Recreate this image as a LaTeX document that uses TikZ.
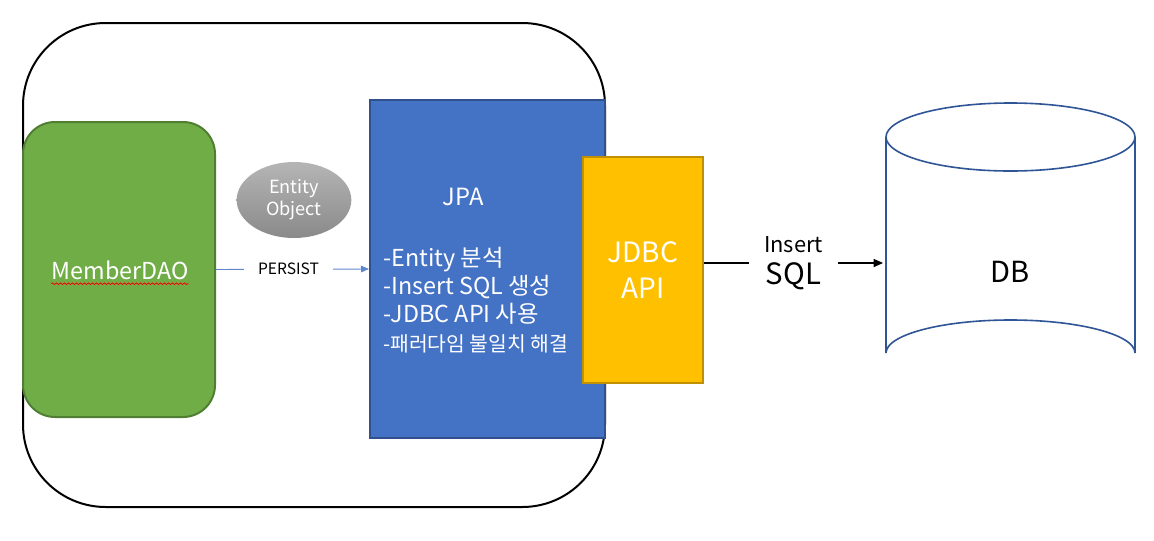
\documentclass[tikz,border=0pt]{standalone}
\usepackage{fontspec}
\setmainfont{Noto Sans CJK KR}
\usetikzlibrary{fit,shapes.geometric,arrows.meta,decorations.pathmorphing}
\definecolor{daogreen}{HTML}{70AD47}
\definecolor{daoborder}{HTML}{507E32}
\definecolor{jpablue}{HTML}{4472C4}
\definecolor{jpaborder}{HTML}{2F528F}
\definecolor{jdbcyellow}{HTML}{FFC000}
\definecolor{jdbcborder}{HTML}{BF9000}
\definecolor{dbborder}{HTML}{2F5597}
\tikzset{
  box/.style={inner sep=0pt, line width=1.5pt},
  wtext/.style={text=white, inner sep=0pt},
  fsz/.style={font=\fontsize{#1pt}{\dimexpr #1pt*13/10\relax}\selectfont},
}
\begin{document}
\begin{tikzpicture}[x=0.75pt,y=-0.75pt]
\useasboundingbox (0,0) rectangle (1154,540);
% container
\node[fit={(23,23) (605,507)}, inner sep=0pt, draw=black, line width=1.5pt, rounded corners=62pt] (app) {};
% MemberDAO
\node[fit={(23,122) (215,417)}, box, draw=daoborder, fill=daogreen, rounded corners=24pt] (dao) {};
\node[wtext, fsz=17.5] (daotxt) at (120,270) {MemberDAO};
\draw[red, line width=0.6pt, decorate, decoration={snake, amplitude=0.6pt, segment length=3pt}] ([yshift=-3pt]daotxt.south west) -- ([yshift=-3pt]daotxt.south east);
% Entity object
\node[ellipse, minimum width=86pt, minimum height=57pt, inner sep=0pt, top color=black!29, bottom color=black!46, draw=none, text=white, align=center, font=\fontsize{13.6pt}{16.5pt}\selectfont] (ent) at (294,200) {Entity\\Object};
% JPA
\node[fit={(370,100) (605,438)}, box, draw=jpaborder, fill=jpablue] (jpa) {};
\node[wtext, fsz=17.8] (jpatxt) at (463,197) {JPA};
\node[wtext, fsz=17.5, anchor=west] (l1) at (383,260) {-Entity 분석};
\node[wtext, fsz=17.5, anchor=west] (l2) at (383,287) {-Insert SQL 생성};
\node[wtext, fsz=17.5, anchor=west] (l3) at (383,314) {-JDBC API 사용};
\node[wtext, fsz=15.3, anchor=west] (l4) at (383,344) {-패러다임 불일치 해결};
% JDBC
\node[fit={(583,157) (703,383)}, box, draw=jdbcborder, fill=jdbcyellow] (jdbc) {};
\node[wtext, align=center, font=\fontsize{21pt}{27pt}\selectfont] (jdbctxt) at (643,270) {JDBC\\API};
% DB cylinder
\node[fit={(886,103) (1135,386)}, inner sep=0pt] (db) {};
\draw[dbborder, line width=1.2pt, fill=white]
  (886,137) -- (886,353) arc[start angle=180, end angle=360, x radius=124.5, y radius=33] -- (1135,137);
\draw[dbborder, line width=1.2pt, fill=white] (1010.5,137) ellipse[x radius=124.5, y radius=34];
\node[fsz=21.8, inner sep=0pt] (dbtxt) at (1010,272) {DB};
% connectors
\draw[jpablue!85, line width=0.7pt, -{Triangle[length=6pt,width=5pt]}] (dao.east) -- node[pos=0.474, fill=white, text=black, fsz=11.7, inner xsep=10.5pt] (persist) {PERSIST} (jpa.west);
\coordinate (sqly) at (0,263);
\draw[black, line width=0.8pt, -{Triangle[length=7pt,width=6pt]}] (jdbc.east |- sqly) -- node[fill=white, text=black, align=center, inner xsep=11.5pt, inner ysep=0pt, font=\fontsize{22pt}{24pt}\selectfont] (sql) {{\fontsize{16.4pt}{18pt}\selectfont Insert}\\SQL} ([xshift=-2pt]db.west |- sqly);
\end{tikzpicture}
\end{document}
